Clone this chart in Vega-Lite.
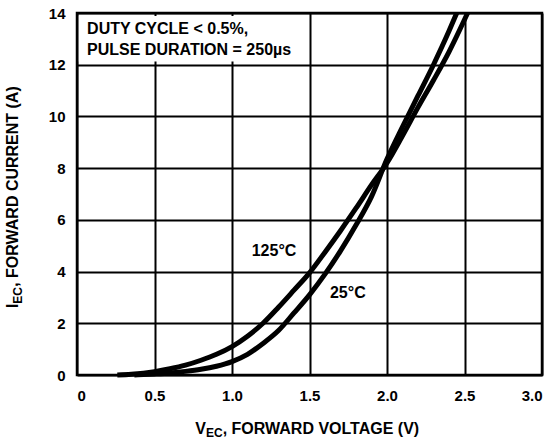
{
  "$schema": "https://vega.github.io/schema/vega-lite/v6.json",
  "width": 465,
  "height": 362,
  "autosize": {"type": "none"},
  "padding": {"left": 77, "top": 13, "right": 12, "bottom": 66},
  "background": "white",
  "config": {
    "view": {"stroke": "black", "strokeWidth": 2.5},
    "font": "Liberation Sans",
    "axis": {
      "labelFont": "Liberation Sans",
      "labelFontWeight": "bold",
      "labelFontSize": 15,
      "labelColor": "black",
      "ticks": false,
      "domain": false,
      "grid": true,
      "gridColor": "black",
      "gridWidth": 2,
      "gridOpacity": 1,
      "title": null
    }
  },
  "datasets": {
    "curves": [
      {"T": "125", "x": 0.26, "y": 0},
      {"T": "125", "x": 0.35, "y": 0.03},
      {"T": "125", "x": 0.5, "y": 0.13},
      {"T": "125", "x": 0.6, "y": 0.24},
      {"T": "125", "x": 0.7, "y": 0.38},
      {"T": "125", "x": 0.8, "y": 0.57},
      {"T": "125", "x": 0.9, "y": 0.8},
      {"T": "125", "x": 1.0, "y": 1.1},
      {"T": "125", "x": 1.1, "y": 1.5},
      {"T": "125", "x": 1.2, "y": 2.0},
      {"T": "125", "x": 1.3, "y": 2.62},
      {"T": "125", "x": 1.4, "y": 3.28},
      {"T": "125", "x": 1.5, "y": 3.95},
      {"T": "125", "x": 1.6, "y": 4.75},
      {"T": "125", "x": 1.7, "y": 5.58},
      {"T": "125", "x": 1.8, "y": 6.45},
      {"T": "125", "x": 1.9, "y": 7.35},
      {"T": "125", "x": 2.0, "y": 8.2},
      {"T": "125", "x": 2.1, "y": 9.25},
      {"T": "125", "x": 2.2, "y": 10.35},
      {"T": "125", "x": 2.3, "y": 11.4},
      {"T": "125", "x": 2.4, "y": 12.5},
      {"T": "125", "x": 2.52, "y": 14.0},
      {"T": "25", "x": 0.37, "y": 0},
      {"T": "25", "x": 0.5, "y": 0.04},
      {"T": "25", "x": 0.6, "y": 0.08},
      {"T": "25", "x": 0.7, "y": 0.14},
      {"T": "25", "x": 0.8, "y": 0.22},
      {"T": "25", "x": 0.9, "y": 0.34},
      {"T": "25", "x": 1.0, "y": 0.52},
      {"T": "25", "x": 1.1, "y": 0.8},
      {"T": "25", "x": 1.2, "y": 1.22},
      {"T": "25", "x": 1.3, "y": 1.72},
      {"T": "25", "x": 1.4, "y": 2.4},
      {"T": "25", "x": 1.5, "y": 3.1},
      {"T": "25", "x": 1.6, "y": 3.9},
      {"T": "25", "x": 1.7, "y": 4.8},
      {"T": "25", "x": 1.8, "y": 5.8},
      {"T": "25", "x": 1.9, "y": 6.9},
      {"T": "25", "x": 2.0, "y": 8.35},
      {"T": "25", "x": 2.1, "y": 9.6},
      {"T": "25", "x": 2.2, "y": 10.8},
      {"T": "25", "x": 2.3, "y": 12.0},
      {"T": "25", "x": 2.4, "y": 13.3},
      {"T": "25", "x": 2.45, "y": 14.0}
    ],
    "box": [{"x": 0.012, "x2": 1.492, "y": 12.12, "y2": 13.88}],
    "labels": [
      {"role": "note", "x": 0.065, "y": 13.17, "text": "DUTY CYCLE < 0.5%,"},
      {"role": "note", "x": 0.065, "y": 12.39, "text": "PULSE DURATION = 250µs"},
      {"role": "curve", "x": 1.127, "y": 4.59, "text": "125°C"},
      {"role": "curve", "x": 1.632, "y": 2.96, "text": "25°C"},
      {"role": "xmain", "x": 0.832, "y": -2.28, "text": "V"},
      {"role": "xsub", "x": 0.832, "y": -2.38, "text": "EC"},
      {"role": "xrest", "x": 0.94, "y": -2.28, "text": ", FORWARD VOLTAGE (V)"},
      {"role": "ymain", "x": -0.379, "y": 2.59, "text": "I"},
      {"role": "ysub", "x": -0.357, "y": 2.76, "text": "EC"},
      {"role": "yrest", "x": -0.379, "y": 3.41, "text": ", FORWARD CURRENT (A)"}
    ]
  },
  "encoding": {
    "x": {
      "field": "x",
      "type": "quantitative",
      "scale": {"domain": [0, 3], "nice": false, "zero": false},
      "axis": {
        "values": [0, 0.5, 1, 1.5, 2, 2.5, 3],
        "labelExpr": "datum.value == 0 ? '0' : format(datum.value, '.1f')",
        "labelPadding": 13
      }
    },
    "y": {
      "field": "y",
      "type": "quantitative",
      "scale": {"domain": [0, 14], "nice": false, "zero": false},
      "axis": {
        "values": [0, 2, 4, 6, 8, 10, 12, 14],
        "labelPadding": 12
      }
    }
  },
  "layer": [
    {
      "data": {"name": "box"},
      "mark": {"type": "rect", "fill": "white", "stroke": null},
      "encoding": {"x2": {"field": "x2"}, "y2": {"field": "y2"}}
    },
    {
      "data": {"name": "curves"},
      "mark": {"type": "line", "color": "black", "strokeWidth": 5, "strokeCap": "butt", "strokeJoin": "round", "interpolate": "monotone"},
      "encoding": {"detail": {"field": "T"}}
    },
    {
      "data": {"name": "labels"},
      "transform": [{"filter": "datum.role == 'note' || datum.role == 'curve'"}],
      "mark": {"type": "text", "align": "left", "baseline": "alphabetic", "font": "Liberation Sans", "fontWeight": "bold", "fontSize": 16, "color": "black"},
      "encoding": {"text": {"field": "text"}}
    },
    {
      "data": {"name": "labels"},
      "transform": [{"filter": "datum.role == 'xmain'"}],
      "mark": {"type": "text", "align": "right", "baseline": "alphabetic", "font": "Liberation Sans", "fontWeight": "bold", "fontSize": 16, "color": "black"},
      "encoding": {"text": {"field": "text"}}
    },
    {
      "data": {"name": "labels"},
      "transform": [{"filter": "datum.role == 'xsub'"}],
      "mark": {"type": "text", "align": "left", "baseline": "alphabetic", "font": "Liberation Sans", "fontWeight": "bold", "fontSize": 12, "color": "black"},
      "encoding": {"text": {"field": "text"}}
    },
    {
      "data": {"name": "labels"},
      "transform": [{"filter": "datum.role == 'xrest'"}],
      "mark": {"type": "text", "align": "left", "baseline": "alphabetic", "font": "Liberation Sans", "fontWeight": "bold", "fontSize": 16, "color": "black"},
      "encoding": {"text": {"field": "text"}}
    },
    {
      "data": {"name": "labels"},
      "transform": [{"filter": "datum.role == 'ymain' || datum.role == 'yrest'"}],
      "mark": {"type": "text", "angle": 270, "align": "left", "baseline": "alphabetic", "font": "Liberation Sans", "fontWeight": "bold", "fontSize": 16, "color": "black"},
      "encoding": {"text": {"field": "text"}}
    },
    {
      "data": {"name": "labels"},
      "transform": [{"filter": "datum.role == 'ysub'"}],
      "mark": {"type": "text", "angle": 270, "align": "left", "baseline": "alphabetic", "font": "Liberation Sans", "fontWeight": "bold", "fontSize": 12, "color": "black"},
      "encoding": {"text": {"field": "text"}}
    }
  ]
}
